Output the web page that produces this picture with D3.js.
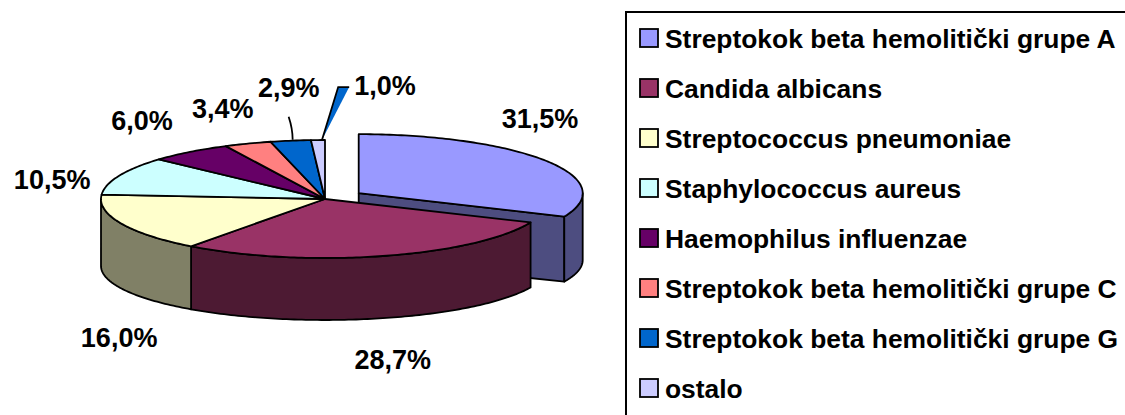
<!DOCTYPE html>
<html>
<head>
<meta charset="utf-8">
<script src="https://cdn.jsdelivr.net/npm/d3@7"></script>
<style>
    html, body { margin: 0; padding: 0; background: #fff; }
    svg { display: block; }
    text { font-family: "Liberation Sans", Arial, Helvetica, sans-serif; font-weight: bold; }
</style>
</head>
<body>
<div id="chart"></div>
<script>
const categories = [
    "Streptokok beta hemolitički grupe A",
    "Candida albicans",
    "Streptococcus pneumoniae",
    "Staphylococcus aureus",
    "Haemophilus influenzae",
    "Streptokok beta hemolitički grupe C",
    "Streptokok beta hemolitički grupe G",
    "ostalo"
];
const shares = [31.5, 28.7, 16.0, 10.5, 6.0, 3.4, 2.9, 1.0];
const colors = ["#9999FF", "#993366", "#FFFFCC", "#CCFFFF", "#660066", "#FF8080", "#0066CC", "#CCCCFF"];

// layout
const width = 1125, height = 415;
const pie3d = { cx: 325, cy: 199, rx: 224, ry: 59, ryBottom: 54, depth: 67, explode: 0.18 };
const explodedIndex = 0;
// label shift from the slice rim point (Excel best-fit placement)
const labelNudge = [[-6, -33], [10, 51], [-2, 59], [-67, 13], [-48, -22], [-25, -26], [-2, -44], [67, -45]];
const labelSize = 27, legendSize = 26.4;

const svg = d3.select("#chart").append("svg")
    .attr("width", width)
    .attr("height", height);

const arcs = d3.pie().sort(null).startAngle(0).endAngle(2 * Math.PI)(shares);
const n = arcs.length;
const shade = c => { const k = d3.rgb(c); return d3.rgb(k.r * 0.5, k.g * 0.5, k.b * 0.5).formatHex(); };
const fmt = v => d3.format(".1f")(v).replace(".", ",") + "%";

function centerOf(i) {
    const a = arcs[i];
    if (i !== explodedIndex) return { x: pie3d.cx, y: pie3d.cy };
    const m = (a.startAngle + a.endAngle) / 2;
    return {
        x: pie3d.cx + pie3d.explode * pie3d.rx * Math.sin(m),
        y: pie3d.cy - pie3d.explode * pie3d.ry * Math.cos(m)
    };
}
const topPt = (t, c) => [c.x + pie3d.rx * Math.sin(t), c.y - pie3d.ry * Math.cos(t)];
const botPt = (t, c) => [c.x + pie3d.rx * Math.sin(t), c.y + pie3d.depth - pie3d.ryBottom * Math.cos(t)];
const sweep = (s, e) => {
    const k = Math.max(2, Math.ceil((e - s) / (Math.PI / 180)));
    return d3.range(k + 1).map(j => s + (e - s) * j / k);
};
const line = d3.line();

function topFace(i) {
    const a = arcs[i], c = centerOf(i);
    return line([[c.x, c.y], ...sweep(a.startAngle, a.endAngle).map(t => topPt(t, c))]) + "Z";
}
function wallFace(i) {
    const a = arcs[i], c = centerOf(i);
    const s = Math.max(a.startAngle, Math.PI / 2), e = Math.min(a.endAngle, 3 * Math.PI / 2);
    if (e <= s) return null;
    const ts = sweep(s, e);
    return line([...ts.map(t => topPt(t, c)), ...ts.reverse().map(t => botPt(t, c))]) + "Z";
}
// radial faces only show where a slice borders the gap left by the exploded slice
function cutFaces(i) {
    const a = arcs[i], c = centerOf(i), out = [];
    const face = t => line([[c.x, c.y], topPt(t, c), botPt(t, c), [c.x, c.y + pie3d.depth]]) + "Z";
    const nextOpen = i === explodedIndex || (i + 1) % n === explodedIndex;
    const prevOpen = i === explodedIndex || (i - 1 + n) % n === explodedIndex;
    if (nextOpen && Math.sin(a.endAngle) > 0.001) out.push(face(a.endAngle));
    if (prevOpen && Math.sin(a.startAngle) < -0.001) out.push(face(a.startAngle));
    return out;
}

const g = svg.append("g")
    .attr("stroke", "#000")
    .attr("stroke-width", 1.8)
    .attr("stroke-linejoin", "round");

function drawSlice(i, parts) {
    const side = shade(colors[i]);
    if (parts.includes("side")) {
        for (const d of cutFaces(i)) g.append("path").attr("d", d).attr("fill", side);
        const w = wallFace(i);
        if (w) g.append("path").attr("d", w).attr("fill", side);
    }
    if (parts.includes("top")) g.append("path").attr("d", topFace(i)).attr("fill", colors[i]);
}

// exploded slice sits behind the rest, then the remaining pie
drawSlice(explodedIndex, ["side", "top"]);
const rest = d3.range(n).filter(i => i !== explodedIndex);
rest.forEach(i => drawSlice(i, ["side"]));
rest.forEach(i => drawSlice(i, ["top"]));

// data labels
const labels = svg.append("g").attr("font-size", labelSize).attr("text-anchor", "middle");
arcs.forEach((a, i) => {
    const c = centerOf(i);
    const m = (a.startAngle + a.endAngle) / 2;
    const rim = Math.cos(m) >= 0 ? topPt(m, c) : botPt(m, c);
    const [dx, dy] = labelNudge[i];
    const t = labels.append("text")
        .attr("x", rim[0] + dx)
        .attr("y", rim[1] + dy)
        .text(fmt(shares[i]));

    // leader lines for the two thin slices
    if (i === 6) {
        const lx = rim[0] + dx, ly = rim[1] + dy + 20;
        svg.append("path")
            .attr("d", `M${lx},${ly} Q${lx + 4},${(ly + rim[1]) / 2} ${rim[0] + 2},${rim[1] - 1}`)
            .attr("fill", "none").attr("stroke", "#000").attr("stroke-width", 1.8);
    }
    if (i === 7) {
        const bb = t.node().getBBox();
        const yMid = bb.y + bb.height / 2 + 1;
        const p0 = [rim[0] + 4, rim[1]], p1 = [bb.x - 16, yMid], p2 = [bb.x - 5, yMid];
        svg.append("path").attr("d", line([p0, p1, p2]) + "Z").attr("fill", colors[6]);
        svg.append("path").attr("d", line([p0, p1, p2]))
            .attr("fill", "none").attr("stroke", "#000").attr("stroke-width", 1.8);
    }
});

// legend
const legend = svg.append("g");
legend.append("rect")
    .attr("x", 626).attr("y", 12)
    .attr("width", 540).attr("height", 440)
    .attr("fill", "#fff").attr("stroke", "#000").attr("stroke-width", 2);
const items = legend.selectAll("g.item").data(categories).join("g")
    .attr("class", "item")
    .attr("transform", (d, i) => `translate(640, ${29 + i * 50})`);
items.append("rect")
    .attr("width", 18).attr("height", 18)
    .attr("fill", (d, i) => colors[i])
    .attr("stroke", "#000").attr("stroke-width", 1.8);
items.append("text")
    .attr("x", 25).attr("y", 19)
    .attr("font-size", legendSize)
    .text(d => d);
</script>
</body>
</html>
